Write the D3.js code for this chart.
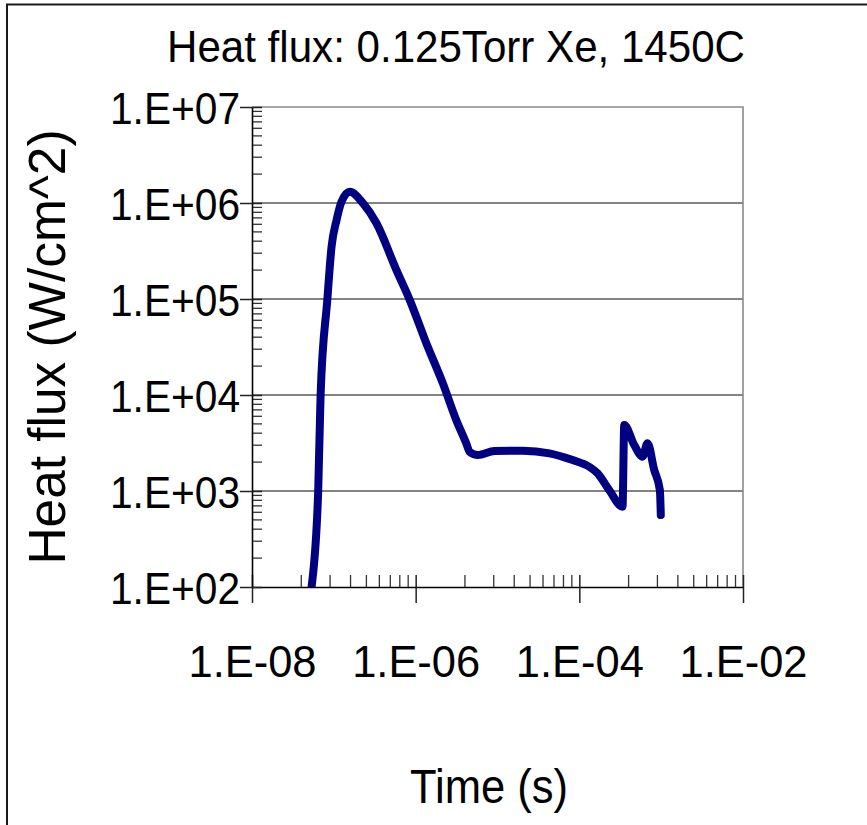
<!DOCTYPE html>
<html>
<head>
<meta charset="utf-8">
<script src="https://cdn.jsdelivr.net/npm/d3@7/dist/d3.min.js"></script>
<style>
  html, body { margin: 0; padding: 0; background: #fff; }
  svg { display: block; }
  text { font-family: "Liberation Sans", Arial, sans-serif; fill: #000; }
</style>
</head>
<body>
<svg id="chart" width="867" height="825"></svg>
<script>
// ---- data ----
const timeSeconds = [3.0e-8, 5.35e-8, 6.44e-8, 6.89e-8, 8.34e-8, 9.38e-8, 1.08e-7, 1.24e-7, 1.57e-7,
  2.28e-7, 3.32e-7, 5.82e-7, 8.45e-7, 1.35e-6, 2.15e-6, 3.13e-6, 4.15e-6, 4.56e-6, 5.75e-6,
  9.18e-6, 2.04e-5, 4.31e-5, 8.28e-5, 1.32e-4, 1.67e-4, 2.32e-4, 3.37e-4, 3.54e-4, 4.69e-4,
  5.92e-4, 6.81e-4, 8.22e-4, 9.64e-4, 9.9e-4];
const heatFlux = [10, 100, 1000, 1.0e4, 1.0e5, 3.51e5, 6.65e5, 1.03e6, 1.31e6,
  9.9e5, 6.15e5, 2.0e5, 9.8e4, 3.46e4, 1.32e4, 5.5e3, 3.14e3, 2.56e3, 2.37e3,
  2.61e3, 2.63e3, 2.47e3, 2.10e3, 1.79e3, 1.53e3, 1.02e3, 686, 4.88e3, 3.01e3,
  2.28e3, 3.14e3, 1.66e3, 1.02e3, 562];

const xMajorTicks = [1e-8, 1e-6, 1e-4, 1e-2];
const xTickLabels = ["1.E-08", "1.E-06", "1.E-04", "1.E-02"];
const xMinorFactors = [4, 9, 16, 25, 36, 49, 64, 81];
const yMajorTicks = [1e2, 1e3, 1e4, 1e5, 1e6, 1e7];
const yTickLabels = ["1.E+02", "1.E+03", "1.E+04", "1.E+05", "1.E+06", "1.E+07"];
const yMinorFactors = [2, 3, 4, 5, 6, 7, 8, 9];

const titleText = "Heat flux: 0.125Torr Xe, 1450C";
const xTitle = "Time (s)";
const yTitle = "Heat flux (W/cm^2)";

// ---- layout ----
const plot = { left: 252, right: 743, top: 107, bottom: 587 };
const svg = d3.select("#chart");

const x = d3.scaleLog().domain([1e-8, 1e-2]).range([plot.left, plot.right]);
const y = d3.scaleLog().domain([1e2, 1e7]).range([plot.bottom, plot.top]);

// outer chart frame (left and top edges visible)
svg.append("path")
  .attr("d", d3.line()([[7, 825], [7, 4.5], [867, 4.5]]))
  .attr("fill", "none").attr("stroke", "#1a1a1a").attr("stroke-width", 2);

// gridlines
svg.append("g").selectAll("line")
  .data(yMajorTicks.filter(v => v > 1e2 && v < 1e7))
  .join("line")
  .attr("x1", plot.left).attr("x2", plot.right)
  .attr("y1", d => y(d)).attr("y2", d => y(d))
  .attr("stroke", "#5a5a5a").attr("stroke-width", 1.3);

// plot border (top / right in gray)
svg.append("path")
  .attr("d", d3.line()([[plot.left, y(1e7)], [plot.right, y(1e7)], [plot.right, plot.bottom]]))
  .attr("fill", "none").attr("stroke", "#8a8a8a").attr("stroke-width", 1.6);

// minor ticks
const xMinor = [];
[1e-8, 1e-6, 1e-4].forEach(m => xMinorFactors.forEach(k => xMinor.push(m * k)));
svg.append("g").selectAll("line").data(xMinor).join("line")
  .attr("x1", d => x(d)).attr("x2", d => x(d))
  .attr("y1", plot.bottom).attr("y2", plot.bottom - 12)
  .attr("stroke", "#333").attr("stroke-width", 1.3);

const yMinor = [];
[1e2, 1e3, 1e4, 1e5, 1e6].forEach(m => yMinorFactors.forEach(k => yMinor.push(m * k)));
svg.append("g").selectAll("line").data(yMinor).join("line")
  .attr("x1", plot.left).attr("x2", plot.left + 10)
  .attr("y1", d => y(d)).attr("y2", d => y(d))
  .attr("stroke", "#333").attr("stroke-width", 1.3);

// axes via d3 axis (major ticks + labels)
const xAxis = d3.axisBottom(x).tickValues(xMajorTicks)
  .tickFormat((d, i) => xTickLabels[i]).tickSizeInner(16).tickSizeOuter(0).tickPadding(30);
const gx = svg.append("g").attr("transform", `translate(0,${plot.bottom})`).call(xAxis);
gx.select(".domain").attr("stroke", "#000").attr("stroke-width", 1.6);
gx.selectAll(".tick line").attr("stroke", "#222").attr("stroke-width", 1.5).attr("y1", -12);
gx.selectAll(".tick text").attr("font-size", 45).attr("font-family", "Liberation Sans, Arial, sans-serif")
  .attr("fill", "#000").attr("dy", 0).attr("y", 90)
  .attr("textLength", 128).attr("lengthAdjust", "spacingAndGlyphs");

const yAxis = d3.axisLeft(y).tickValues(yMajorTicks)
  .tickFormat((d, i) => yTickLabels[i]).tickSizeInner(12).tickSizeOuter(0).tickPadding(4);
const gy = svg.append("g").attr("transform", `translate(${plot.left},0)`).call(yAxis);
gy.select(".domain").attr("stroke", "#000").attr("stroke-width", 1.6);
gy.selectAll(".tick line").attr("stroke", "#222").attr("stroke-width", 1.5).attr("x2", -12).attr("x1", 10);
gy.selectAll(".tick text").attr("font-size", 45).attr("font-family", "Liberation Sans, Arial, sans-serif")
  .attr("fill", "#000").attr("dy", "0.36em").attr("x", -12)
  .attr("textLength", 130).attr("lengthAdjust", "spacingAndGlyphs");

// data line
svg.append("clipPath").attr("id", "clip").append("rect")
  .attr("x", plot.left).attr("y", plot.top)
  .attr("width", plot.right - plot.left).attr("height", plot.bottom - plot.top);

const line = d3.line()
  .x((d, i) => x(timeSeconds[i]))
  .y((d, i) => y(heatFlux[i]))
  .curve(d3.curveMonotoneX);

svg.append("path")
  .datum(timeSeconds)
  .attr("clip-path", "url(#clip)")
  .attr("d", line)
  .attr("fill", "none")
  .attr("stroke", "#000080")
  .attr("stroke-width", 8)
  .attr("stroke-linejoin", "round")
  .attr("stroke-linecap", "round");

// titles
svg.append("text").attr("x", 456).attr("y", 62).attr("text-anchor", "middle")
  .attr("font-size", 44).attr("textLength", 578).attr("lengthAdjust", "spacingAndGlyphs")
  .text(titleText);

svg.append("text").attr("x", 489).attr("y", 803).attr("text-anchor", "middle")
  .attr("font-size", 48).attr("textLength", 158).attr("lengthAdjust", "spacingAndGlyphs")
  .text(xTitle);

svg.append("text").attr("transform", "translate(65,347) rotate(-90)")
  .attr("text-anchor", "middle").attr("font-size", 51)
  .attr("textLength", 435).attr("lengthAdjust", "spacingAndGlyphs")
  .text(yTitle);
</script>
</body>
</html>
